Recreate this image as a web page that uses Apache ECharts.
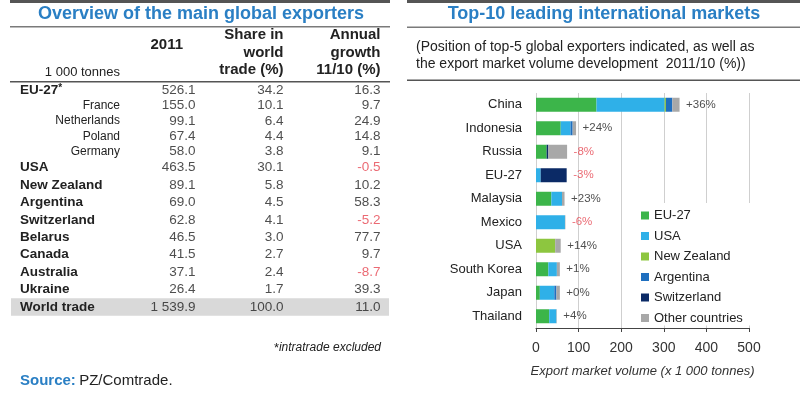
<!DOCTYPE html>
<html><head><meta charset="utf-8">
<script src="https://cdn.jsdelivr.net/npm/echarts@6/dist/echarts.min.js"></script>
<style>html,body{margin:0;padding:0;background:#fff}#c{width:800px;height:393px}</style>
</head><body><div id="c"></div>
<script>
const FONT = '"Liberation Sans", Arial, sans-serif';
const BLUE = '#2a7fc4';
const RED = '#e64550';
const TXT = '#222';

// ---- table data ----
const rowNames = ['EU-27*','France','Netherlands','Poland','Germany','USA','New Zealand','Argentina','Switzerland','Belarus','Canada','Australia','Ukraine','World trade'];
const subRows = ['France','Netherlands','Poland','Germany'];
const volume2011 = [526.1,155.0,99.1,67.4,58.0,463.5,89.1,69.0,62.8,46.5,41.5,37.1,26.4,1539.9];
const shareWorld = [34.2,10.1,6.4,4.4,3.8,30.1,5.8,4.5,4.1,3.0,2.7,2.4,1.7,100.0];
const growth1110 = [16.3,9.7,24.9,14.8,9.1,-0.5,10.2,58.3,-5.2,77.7,9.7,-8.7,39.3,11.0];
const columnHeaders = ['2011','Share in\nworld\ntrade (%)','Annual\ngrowth\n11/10 (%)'];
const unitLabel = '1 000 tonnes';

// ---- chart data ----
const markets = ['China','Indonesia','Russia','EU-27','Malaysia','Mexico','USA','South Korea','Japan','Thailand'];
const exporters = ['EU-27','USA','New Zealand','Argentina','Switzerland','Other countries'];
const euValues    = [142,58,25,0,36,0,0,29,9,31];
const usaValues   = [160,23,0,11,25,68,0,20,34,17];
const nzValues    = [3,0,0,0,0,0,45,0,0,0];
const argValues   = [15,5,0,0,0,0,0,0,5,0];
const swiValues   = [0,0,4,61,0,0,0,0,0,0];
const otherValues = [17,8,44,0,6,1,13,7,8,1];
const marketGrowth = ['+36%','+24%','-8%','-3%','+23%','-6%','+14%','+1%','+0%','+4%'];
const xTicks = [0,100,200,300,400,500];
const xAxisTitle = 'Export market volume (x 1 000 tonnes)';

const exporterValues = [euValues, usaValues, nzValues, argValues, swiValues, otherValues];
const exporterColors = ['#3cb54a','#2fb0e8','#8dc63f','#1f6fbf','#0b2a66','#a8a8a8'];

function fmt(v){
  const s = v.toFixed(1); const p = s.split('.');
  return p[0].replace(/\B(?=(\d{3})+(?!\d))/g,' ') + '.' + p[1];
}

const group1 = rowNames.slice(0,5);
const group2 = rowNames.slice(5);

function tableSeries(rows, start, xIdx, yIdx){
  const data = [];
  rows.forEach((r,k)=>{
    const i = start + k;
    const cells = [fmt(volume2011[i]), fmt(shareWorld[i]), fmt(growth1110[i])];
    cells.forEach((t,c)=>{
      data.push({value:[c+1, r], label:{formatter:t, color:(c===2 && growth1110[i]<0)?RED:TXT, offset:c===1?[-4.5,0]:[0,0]}});
    });
  });
  return {type:'scatter', xAxisIndex:xIdx, yAxisIndex:yIdx, symbolSize:1, silent:true, z:5,
    itemStyle:{color:'transparent'},
    label:{show:true, position:'left', distance:0, fontSize:13.5, fontFamily:FONT}, data};
}

const rowLabel = {
  show:true, align:'left', margin:-9, interval:0, hideOverlap:false,
  formatter: n => subRows.includes(n) ? '{s|'+n+'}' : (n.endsWith('*') ? '{b|'+n.slice(0,-1)+'}{a|*}' : '{b|'+n+'}'),
  rich:{
    b:{fontWeight:'bold', fontSize:13.5, color:TXT, fontFamily:FONT},
    s:{fontSize:12, width:100, align:'right', color:TXT, fontFamily:FONT},
    a:{fontSize:10, fontWeight:'bold', color:TXT, fontFamily:FONT, verticalAlign:'top'}
  }
};

const totals = markets.map((m,i)=>exporterValues.reduce((s,a)=>s+a[i],0));

const headerAnchor = [[183,45,'middle'],[283.5,79,'bottom'],[380.5,79,'bottom']];

const graphics = [
  {type:'rect', shape:{x:10,y:0,width:380,height:3}, style:{fill:'#555'}},
  {type:'rect', shape:{x:10,y:26,width:380,height:1.5}, style:{fill:'#7a7a7a'}},
  {type:'rect', shape:{x:10,y:81,width:380,height:1.5}, style:{fill:'#555'}},
  {type:'rect', shape:{x:407,y:0,width:393,height:3}, style:{fill:'#555'}},
  {type:'rect', shape:{x:407,y:26.5,width:393,height:1.5}, style:{fill:'#7a7a7a'}},
  {type:'rect', shape:{x:407,y:79.5,width:393,height:1.5}, style:{fill:'#555'}},
  {type:'text', style:{text:'Overview of the main global exporters', x:201, y:14, align:'center', verticalAlign:'middle', fontSize:18, fontWeight:'bold', fontFamily:FONT, fill:BLUE}},
  {type:'text', style:{text:'Top-10 leading international markets', x:604, y:14, align:'center', verticalAlign:'middle', fontSize:18, fontWeight:'bold', fontFamily:FONT, fill:BLUE}},
  {type:'text', style:{text:'(Position of top-5 global exporters indicated, as well as\nthe export market volume development  2011/10 (%))', x:416, y:56, align:'left', verticalAlign:'middle', fontSize:14, lineHeight:17, fontFamily:FONT, fill:TXT}},
  {type:'text', style:{text:unitLabel, x:120, y:72, align:'right', verticalAlign:'middle', fontSize:13, fontFamily:FONT, fill:TXT}},
  {type:'text', style:{text:'{a|*}{b|intratrade excluded}', x:381, y:348, align:'right', verticalAlign:'middle',
     rich:{a:{fontSize:13, fontFamily:FONT, fill:TXT, verticalAlign:'top'}, b:{fontSize:12, fontStyle:'italic', fontFamily:FONT, fill:TXT}}}},
  {type:'text', style:{text:'{a|Source:} {b|PZ/Comtrade.}', x:20, y:381, align:'left', verticalAlign:'middle',
     rich:{a:{fontSize:15, fontWeight:'bold', fontFamily:FONT, fill:BLUE}, b:{fontSize:15, fontFamily:FONT, fill:TXT}}}}
];
columnHeaders.forEach((h,c)=>{
  const a = headerAnchor[c];
  graphics.push({type:'text', style:{text:h, x:a[0], y:a[1], align:'right', verticalAlign:a[2], fontSize:15, fontWeight:'bold', lineHeight:17.5, fontFamily:FONT, fill:TXT}});
});

const series = exporters.map((name,k)=>({
  name, type:'bar', stack:'total', xAxisIndex:0, yAxisIndex:0, barWidth:14,
  itemStyle:{color:exporterColors[k]}, data:exporterValues[k], emphasis:{disabled:true}
}));
series.push({
  type:'scatter', xAxisIndex:0, yAxisIndex:0, symbolSize:1, itemStyle:{color:'transparent'}, silent:true, z:5,
  data: markets.map((m,i)=>({value:[totals[i], m], label:{formatter:marketGrowth[i], color: marketGrowth[i].startsWith('-')?RED:TXT}})),
  label:{show:true, position:'right', distance:6, fontSize:11.5, fontFamily:FONT}
});
series.push({
  type:'bar', xAxisIndex:3, yAxisIndex:2, barWidth:'100%', silent:true, z:1,
  itemStyle:{color:'#d9d9d9'}, data: group2.map(r => r==='World trade' ? 1 : '-')
});
series.push(tableSeries(group1, 0, 1, 1));
series.push(tableSeries(group2, 5, 2, 2));

const option = {
  animation:false,
  backgroundColor:'#fff',
  textStyle:{fontFamily:FONT},
  graphic: graphics,
  legend:{orient:'vertical', left:635, top:203, itemWidth:8, itemHeight:8, itemGap:7.5, icon:'rect',
    backgroundColor:'#fff', padding:[6,12,1,6], data:exporters,
    textStyle:{fontSize:13, color:TXT, fontFamily:FONT}, selectedMode:false},
  grid:[
    {left:536, right:51, top:93, bottom:65},
    {left:11, width:378, top:82.3, height:77},
    {left:11, width:378, top:158.8, height:157}
  ],
  xAxis:[
    {type:'value', gridIndex:0, min:xTicks[0], max:xTicks[xTicks.length-1], interval:100,
     axisLine:{show:true, lineStyle:{color:'#444'}}, axisTick:{show:true, length:4, lineStyle:{color:'#444'}},
     axisLabel:{fontSize:14, color:'#333', margin:13, fontFamily:FONT},
     splitLine:{show:true, lineStyle:{color:'#cfcfcf'}},
     name:xAxisTitle, nameLocation:'middle', nameGap:37,
     nameTextStyle:{fontSize:13, fontStyle:'italic', color:'#333', fontFamily:FONT}},
    {type:'value', gridIndex:1, min:-1, max:3.0865, show:false},
    {type:'value', gridIndex:2, min:-1, max:3.0865, show:false},
    {type:'value', gridIndex:2, min:0, max:1, show:false}
  ],
  yAxis:[
    {type:'category', gridIndex:0, data:markets, inverse:true,
     axisLine:{show:false}, axisTick:{show:false},
     axisLabel:{fontSize:13, color:TXT, margin:14, fontFamily:FONT, interval:0}},
    {type:'category', gridIndex:1, data:group1, inverse:true, z:10,
     axisLine:{show:false}, axisTick:{show:false}, splitLine:{show:false}, axisLabel:rowLabel},
    {type:'category', gridIndex:2, data:group2, inverse:true, z:10,
     axisLine:{show:false}, axisTick:{show:false}, splitLine:{show:false}, axisLabel:rowLabel}
  ],
  series
};
const chart = echarts.init(document.getElementById('c'));
chart.setOption(option);
</script></body></html>
